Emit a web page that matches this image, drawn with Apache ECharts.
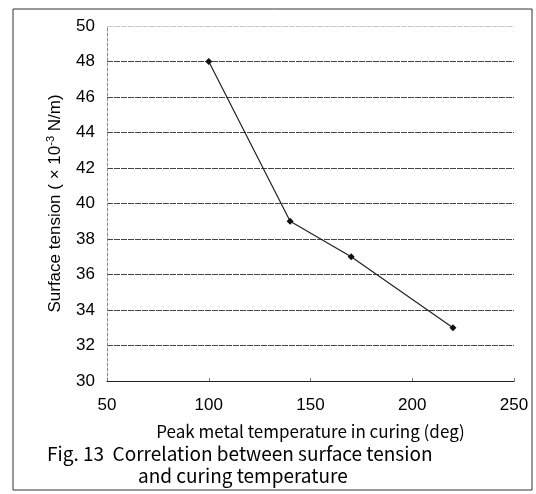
<!DOCTYPE html>
<html>
<head>
<meta charset="utf-8">
<script src="https://cdn.jsdelivr.net/npm/echarts@6/dist/echarts.min.js"></script>
<style>
  html, body { margin: 0; padding: 0; background: #fff; }
  #chart { width: 536px; height: 494px; }
</style>
</head>
<body>
<div id="chart"></div>
<script>
// 数据
var temps = [100, 140, 170, 220];
var tensions = [48, 39, 37, 33];
var xTicks = [50, 100, 150, 200, 250];
var yTicks = [30, 32, 34, 36, 38, 40, 42, 44, 46, 48, 50];

var chart = echarts.init(document.getElementById('chart'));

var points = [];
for (var i = 0; i < temps.length; i++) {
    points.push([temps[i], tensions[i]]);
}

// split line colours: last one (50) is faint
var splitColors = [];
for (var j = 0; j < yTicks.length; j++) {
    splitColors.push(j === yTicks.length - 1 ? '#c8c8c8' : '#444');
}

var option = {
    backgroundColor: '#fff',
    animation: false,
    grid: { left: 107, right: 22, top: 26, bottom: 113 },
    xAxis: {
        type: 'value',
        min: xTicks[0],
        max: xTicks[xTicks.length - 1],
        interval: 50,
        name: 'Peak metal temperature in curing (deg)',
        nameLocation: 'middle',
        nameGap: 42,
        nameTextStyle: { fontFamily: 'Noto Sans CJK JP', fontSize: 17, color: '#000' },
        axisLine: { lineStyle: { color: '#222', width: 1.2 } },
        axisTick: { inside: true, length: 3, lineStyle: { color: '#777' } },
        axisLabel: { fontFamily: 'Liberation Sans', fontSize: 17, color: '#000', margin: 16 },
        splitLine: { show: false }
    },
    yAxis: {
        type: 'value',
        min: yTicks[0],
        max: yTicks[yTicks.length - 1],
        interval: 2,
        name: 'Surface tension ( \u00d7 10{s|-3} N/m)',
        nameLocation: 'middle',
        nameGap: 42,
        nameTextStyle: {
            fontFamily: 'Liberation Sans', fontSize: 17, color: '#000',
            rich: { s: { fontSize: 11, verticalAlign: 'top', padding: [0, 0, 9, 0], fontFamily: 'Liberation Sans', color: '#000' } }
        },
        axisLine: { show: true, lineStyle: { color: '#888', type: [3, 2] } },
        axisTick: { show: false },
        axisLabel: { fontFamily: 'Liberation Sans', fontSize: 17, color: '#000', margin: 12 },
        splitLine: { show: true, lineStyle: { color: splitColors, width: 1, type: [6, 1] } }
    },
    graphic: [
        {
            type: 'rect',
            shape: { x: 13, y: 9, width: 519, height: 481 },
            style: { fill: 'none', stroke: '#333', lineWidth: 1 },
            silent: true
        },
        {
            type: 'text',
            left: 47, top: 444,
            style: {
                text: 'Fig. 13  Correlation between surface tension',
                font: '19px "Noto Sans CJK JP"', fill: '#000'
            }
        },
        {
            type: 'text',
            left: 138, top: 466,
            style: {
                text: 'and curing temperature',
                font: '19px "Noto Sans CJK JP"', fill: '#000'
            }
        }
    ],
    series: [{
        type: 'line',
        data: points,
        symbol: 'diamond',
        symbolSize: 7,
        lineStyle: { color: '#222', width: 1.2 },
        itemStyle: { color: '#111' }
    }]
};

chart.setOption(option);
</script>
</body>
</html>
